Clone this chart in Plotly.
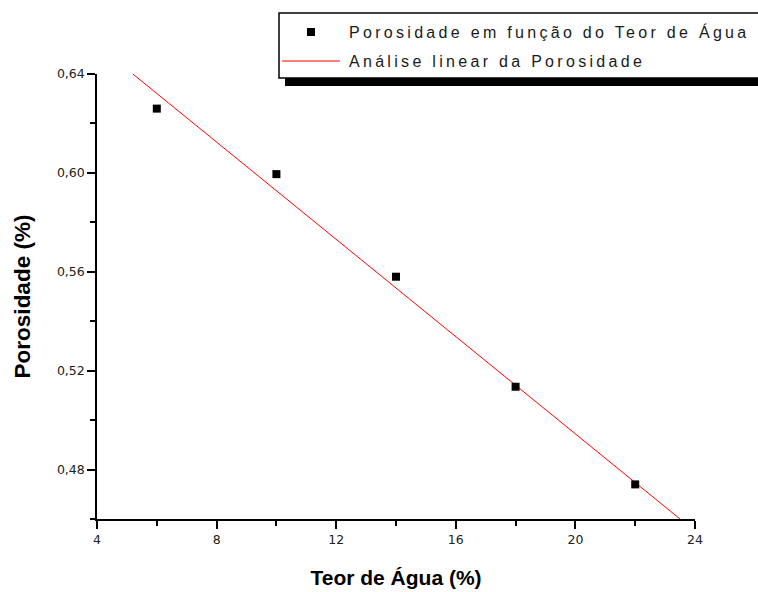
import plotly.graph_objects as go

# ---- data ----
teor_agua = [6, 10, 14, 18, 22]
porosidade = [0.626, 0.5995, 0.558, 0.5135, 0.474]
fit_x = [5.2, 23.5]
fit_y = [0.640, 0.460]
x_ticks = [4, 8, 12, 16, 20, 24]
y_ticks = [0.48, 0.52, 0.56, 0.60, 0.64]
name_points = "Porosidade em função do Teor de Água"
name_fit = "Análise linear da Porosidade"
x_title = "Teor de Água (%)"
y_title = "Porosidade (%)"

W, H = 758, 592
L, R, T, B = 97, 63, 74, 73
PW, PH = W - L - R, H - T - B


def px(x):
    return (x - L) / PW


def py(y):
    return (H - B - y) / PH


fig = go.Figure()
fig.add_trace(go.Scatter(x=fit_x, y=fit_y, mode="lines", name=name_fit,
                         line=dict(color="#ff0000", width=1), showlegend=False))
fig.add_trace(go.Scatter(x=teor_agua, y=porosidade, mode="markers", name=name_points,
                         marker=dict(symbol="square", size=8, color="black"),
                         showlegend=False))

axis_common = dict(showline=True, linecolor="black", linewidth=1.5, ticks="outside",
                   ticklen=8, tickwidth=1.5, tickcolor="black", showgrid=False,
                   zeroline=False, mirror=False, automargin=False,
                   tickfont=dict(family="DejaVu Sans", size=12.5, color="#222"),
                   minor=dict(ticks="outside", ticklen=5, tickwidth=1.5, tickcolor="black",
                              showgrid=False))

fig.update_xaxes(range=[4, 24], tickvals=x_ticks, **axis_common,
                 title=dict(text=x_title, standoff=25,
                            font=dict(family="Arial, Liberation Sans", size=21,
                                      color="black", weight="bold")))
fig.update_yaxes(range=[0.46, 0.64], tickvals=y_ticks, tickformat=".2f", **axis_common,
                 title=dict(text=y_title, standoff=20,
                            font=dict(family="Arial, Liberation Sans", size=22.5,
                                      color="black", weight="bold")))
fig.update_xaxes(minor=dict(dtick=2, tick0=4))
fig.update_yaxes(minor=dict(dtick=0.02, tick0=0.46))

shapes = [
    # legend shadow
    dict(type="rect", xref="paper", yref="paper", x0=px(285), x1=px(780), y0=py(86), y1=py(78),
         fillcolor="black", line=dict(width=0), layer="above"),
    # legend box
    dict(type="rect", xref="paper", yref="paper", x0=px(279), x1=px(780), y0=py(78), y1=py(13),
         fillcolor="white", line=dict(color="black", width=1.5), layer="above"),
    # legend symbols
    dict(type="rect", xref="paper", yref="paper", x0=px(307), x1=px(315), y0=py(36), y1=py(28),
         fillcolor="black", line=dict(width=0), layer="above"),
    dict(type="line", xref="paper", yref="paper", x0=px(282), x1=px(340), y0=py(61), y1=py(61),
         line=dict(color="#ff0000", width=1.2), layer="above"),
]
annotations = [
    dict(text=name_points, xref="paper", yref="paper", x=px(347), y=py(32), xanchor="left",
         yanchor="middle", showarrow=False,
         font=dict(family="Arial, Liberation Sans", size=16, color="#1a1a1a")),
    dict(text=name_fit, xref="paper", yref="paper", x=px(347), y=py(61), xanchor="left",
         yanchor="middle", showarrow=False,
         font=dict(family="Arial, Liberation Sans", size=16, color="#1a1a1a")),
]

fig.update_layout(width=W, height=H, margin=dict(l=L, r=R, t=T, b=B),
                  paper_bgcolor="white", plot_bgcolor="white", separators=",.",
                  shapes=shapes, annotations=annotations)

post = """
document.body.style.margin='0';
document.body.style.padding='0';
document.querySelectorAll('.annotation-text').forEach(function(t){
  var b=t.getBBox();
  t.setAttribute('text-anchor','start');
  t.setAttribute('x', b.x);
  t.style.letterSpacing='3.3px';
});
"""
fig.write_html("out.html", post_script=post, config={"displayModeBar": False})
